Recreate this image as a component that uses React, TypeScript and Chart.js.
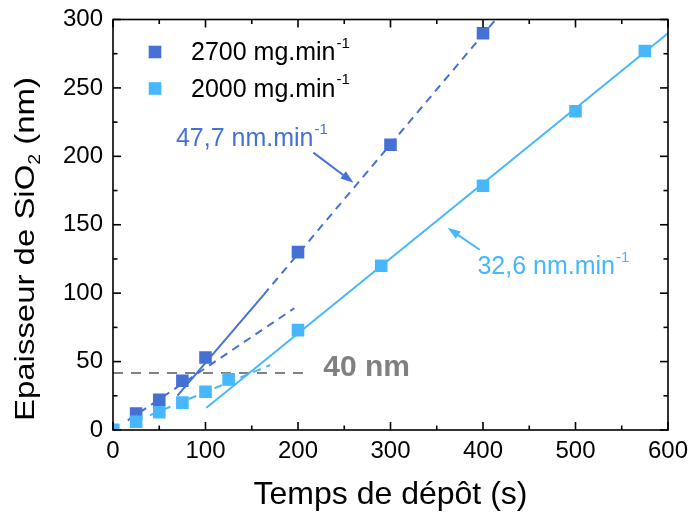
import React, { useEffect, useRef } from "react";
import { Chart, registerables } from "chart.js";

Chart.register(...registerables);

const DARK = "#4571D6";
const LIGHT = "#46B7FD";
const GREY = "#808080";
const FONT = "'Liberation Sans', Arial, Helvetica, sans-serif";

// Measured points (time in s, thickness in nm)
const timeDark = [0, 25, 50, 75, 100, 200, 300, 400];
const thickDark = [0, 12, 22, 36, 53, 130, 208.5, 290];
const timeLight = [0, 25, 50, 75, 100, 125, 200, 290, 400, 500, 575];
const thickLight = [0, 6, 13, 20, 28, 37, 73, 120, 178.5, 233, 277];

// Fit / guide lines (end points)
const fitDarkSolidX = [69.7, 162.8];
const fitDarkSolidY = [25.1, 98.8];
const fitDarkDashX = [162.8, 415];
const fitDarkDashY = [98.8, 301];
const fitDarkEarlyX = [16, 196];
const fitDarkEarlyY = [7, 89];
const fitLightEarlyX = [40, 170];
const fitLightEarlyY = [10.8, 47.5];
const fitLightX = [101, 600];
const fitLightY = [16.3, 290];
const thresholdX = [0, 206];
const thresholdY = [41.7, 41.7];

// Text
const seriesNames = ["2700 mg.min", "2000 mg.min"];
const unitExponent = "-1";
const slopeTexts = ["47,7 nm.min", "32,6 nm.min"];
const thresholdText = "40 nm";
const xTitle = "Temps de dépôt (s)";
const yTitleMain = "Epaisseur de SiO";
const yTitleSub = "2";
const yTitleEnd = " (nm)";

// Annotation anchors (data coordinates)
const slopeTextPos = [
  [68, 207.4],
  [394, 114],
];
const arrowFrom = [
  [216.6, 202.7],
  [396.4, 131.7],
];
const arrowTo = [
  [260, 180.7],
  [361.7, 147.8],
];
const thresholdTextPos = [227.4, 39.5];

const pts = (xs: number[], ys: number[]) => xs.map((v, i) => ({ x: v, y: ys[i] }));

function drawWithSup(
  ctx: CanvasRenderingContext2D,
  text: string,
  sup: string,
  x: number,
  y: number,
  size: number,
  color: string,
  weight = "normal"
) {
  ctx.fillStyle = color;
  ctx.textAlign = "left";
  ctx.textBaseline = "alphabetic";
  ctx.font = `${weight} ${size}px ${FONT}`;
  ctx.fillText(text, x, y);
  const w = ctx.measureText(text).width;
  ctx.font = `${weight} ${Math.round(size * 0.6)}px ${FONT}`;
  ctx.fillText(sup, x + w + 1, y - size * 0.5);
}

const overlay = {
  id: "overlay",
  afterDatasetsDraw(chart: any) {
    const { ctx, chartArea: a } = chart;
    const xs = chart.scales.x;
    const ys = chart.scales.y;
    ctx.save();

    // frame
    ctx.strokeStyle = "#000";
    ctx.lineWidth = 1.6;
    ctx.setLineDash([]);
    ctx.strokeRect(a.left, a.top, a.right - a.left, a.bottom - a.top);

    const seg = (x1: number, y1: number, x2: number, y2: number) => {
      ctx.beginPath();
      ctx.moveTo(x1, y1);
      ctx.lineTo(x2, y2);
      ctx.stroke();
    };
    const major = 8;
    const minor = 4.5;
    const xt = xs.ticks.map((t: any) => t.value);
    const yt = ys.ticks.map((t: any) => t.value);
    xt.forEach((v: number, i: number) => {
      const p = xs.getPixelForValue(v);
      seg(p, a.bottom, p, a.bottom - major);
      seg(p, a.top, p, a.top + major);
      if (i < xt.length - 1) {
        const m = xs.getPixelForValue((v + xt[i + 1]) / 2);
        seg(m, a.bottom, m, a.bottom - minor);
        seg(m, a.top, m, a.top + minor);
      }
    });
    yt.forEach((v: number, i: number) => {
      const p = ys.getPixelForValue(v);
      seg(a.left, p, a.left + major, p);
      seg(a.right, p, a.right - major, p);
      if (i < yt.length - 1) {
        const m = ys.getPixelForValue((v + yt[i + 1]) / 2);
        seg(a.left, m, a.left + minor, m);
        seg(a.right, m, a.right - minor, m);
      }
    });

    // legend
    const legendColors = [DARK, LIGHT];
    seriesNames.forEach((name, i) => {
      const cy = a.top + 32.5 + i * 36.5;
      const cx = a.left + 42;
      ctx.fillStyle = legendColors[i];
      ctx.fillRect(cx - 6.3, cy - 6.3, 12.6, 12.6);
      drawWithSup(ctx, name, unitExponent, a.left + 78, cy + 8.3, 25, "#000");
    });

    // slope labels + arrows
    const slopeColors = [DARK, LIGHT];
    slopeTexts.forEach((t, i) => {
      const px = xs.getPixelForValue(slopeTextPos[i][0]);
      const py = ys.getPixelForValue(slopeTextPos[i][1]);
      drawWithSup(ctx, t, unitExponent, px, py, 25, slopeColors[i]);
      const x1 = xs.getPixelForValue(arrowFrom[i][0]);
      const y1 = ys.getPixelForValue(arrowFrom[i][1]);
      const x2 = xs.getPixelForValue(arrowTo[i][0]);
      const y2 = ys.getPixelForValue(arrowTo[i][1]);
      const ang = Math.atan2(y2 - y1, x2 - x1);
      const hl = 13;
      const hw = 4.5;
      ctx.strokeStyle = slopeColors[i];
      ctx.fillStyle = slopeColors[i];
      ctx.lineWidth = 2;
      seg(x1, y1, x2 - Math.cos(ang) * hl * 0.8, y2 - Math.sin(ang) * hl * 0.8);
      ctx.beginPath();
      ctx.moveTo(x2, y2);
      ctx.lineTo(
        x2 - Math.cos(ang) * hl - Math.sin(ang) * hw,
        y2 - Math.sin(ang) * hl + Math.cos(ang) * hw
      );
      ctx.lineTo(
        x2 - Math.cos(ang) * hl + Math.sin(ang) * hw,
        y2 - Math.sin(ang) * hl - Math.cos(ang) * hw
      );
      ctx.closePath();
      ctx.fill();
    });

    // threshold label
    ctx.fillStyle = GREY;
    ctx.font = `bold 30px ${FONT}`;
    ctx.textAlign = "left";
    ctx.textBaseline = "alphabetic";
    ctx.fillText(
      thresholdText,
      xs.getPixelForValue(thresholdTextPos[0]),
      ys.getPixelForValue(thresholdTextPos[1])
    );

    // y title with subscript
    ctx.save();
    ctx.translate(34, 249);
    ctx.rotate(-Math.PI / 2);
    ctx.scale(1.22, 1);
    ctx.fillStyle = "#000";
    ctx.textBaseline = "alphabetic";
    ctx.textAlign = "left";
    const big = `27px ${FONT}`;
    const small = `16px ${FONT}`;
    ctx.font = big;
    const w1 = ctx.measureText(yTitleMain).width;
    const w3 = ctx.measureText(yTitleEnd).width;
    ctx.font = small;
    const w2 = ctx.measureText(yTitleSub).width;
    const total = w1 + w2 + w3;
    let cx = -total / 2;
    ctx.font = big;
    ctx.fillText(yTitleMain, cx, 0);
    cx += w1;
    ctx.font = small;
    ctx.fillText(yTitleSub, cx, 6);
    cx += w2;
    ctx.font = big;
    ctx.fillText(yTitleEnd, cx, 0);
    ctx.restore();

    ctx.restore();
  },
};

export default function App() {
  const ref = useRef<HTMLCanvasElement | null>(null);
  useEffect(() => {
    if (!ref.current) return;
    const lineBase = { showLine: true, pointRadius: 0, borderWidth: 2, fill: false };
    const chart = new Chart(ref.current, {
      type: "scatter",
      data: {
        datasets: [
          {
            label: seriesNames[1] + unitExponent,
            data: pts(timeLight, thickLight),
            backgroundColor: LIGHT,
            borderColor: LIGHT,
            pointStyle: "rect",
            pointRadius: 8.9,
            borderWidth: 0,
            order: 0,
          },
          {
            label: seriesNames[0] + unitExponent,
            data: pts(timeDark, thickDark),
            backgroundColor: DARK,
            borderColor: DARK,
            pointStyle: "rect",
            pointRadius: 8.9,
            borderWidth: 0,
            order: 1,
          },
          { ...lineBase, label: "fitDarkSolid", data: pts(fitDarkSolidX, fitDarkSolidY), borderColor: DARK, order: 2 },
          { ...lineBase, label: "fitDarkDash", data: pts(fitDarkDashX, fitDarkDashY), borderColor: DARK, borderDash: [8, 6], order: 3 },
          { ...lineBase, label: "fitDarkEarly", data: pts(fitDarkEarlyX, fitDarkEarlyY), borderColor: DARK, borderDash: [8, 6], order: 4 },
          { ...lineBase, label: "fitLightEarly", data: pts(fitLightEarlyX, fitLightEarlyY), borderColor: LIGHT, borderDash: [8, 6], order: 5 },
          { ...lineBase, label: "fitLight", data: pts(fitLightX, fitLightY), borderColor: LIGHT, order: 6 },
          { ...lineBase, label: "threshold", data: pts(thresholdX, thresholdY), borderColor: GREY, borderDash: [10, 8], order: 7 },
        ],
      },
      options: {
        responsive: false,
        animation: false,
        layout: { padding: { top: 19.5, right: 21, left: 0, bottom: 0 } },
        plugins: { legend: { display: false }, tooltip: { enabled: false } },
        scales: {
          x: {
            type: "linear",
            min: 0,
            max: 600,
            ticks: { stepSize: 100, color: "#000", padding: 7, font: { family: FONT, size: 24 } },
            grid: { display: false, drawTicks: false },
            border: { display: false },
            title: {
              display: true,
              text: xTitle,
              color: "#000",
              font: { family: FONT, size: 32 },
              padding: { top: 0, bottom: 4 },
            },
            afterFit: (s: any) => {
              s.height = 88;
              s.paddingLeft = 0;
              s.paddingRight = 0;
            },
          },
          y: {
            type: "linear",
            min: 0,
            max: 300,
            ticks: { stepSize: 50, color: "#000", padding: 10, font: { family: FONT, size: 24 } },
            grid: { display: false, drawTicks: false },
            border: { display: false },
            afterFit: (s: any) => {
              s.width = 113;
              s.paddingTop = 0;
              s.paddingBottom = 0;
            },
          },
        },
      },
      plugins: [overlay],
    } as any);
    return () => chart.destroy();
  }, []);
  return (
    <div style={{ position: "absolute", left: 0, top: 0, width: 689, height: 518, background: "#fff" }}>
      <canvas ref={ref} width={689} height={518} style={{ display: "block" }} />
    </div>
  );
}
